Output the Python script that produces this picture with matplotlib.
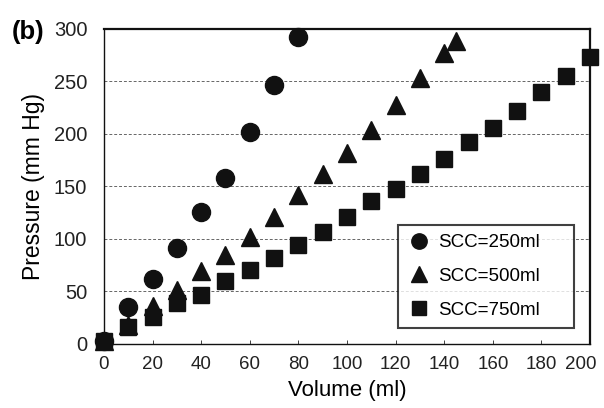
import matplotlib
matplotlib.use("Agg")
import matplotlib.pyplot as plt
import matplotlib.transforms as mtransforms

plt.rcParams['font.family'] = ['Liberation Sans', 'DejaVu Sans']

vol_250 = [0, 10, 20, 30, 40, 50, 60, 70, 80]
p_250 = [3, 35, 62, 91, 126, 158, 202, 247, 292]

vol_500 = [0, 10, 20, 30, 40, 50, 60, 70, 80, 90, 100, 110, 120, 130, 140, 145]
p_500 = [3, 18, 36, 51, 69, 85, 102, 121, 142, 162, 182, 204, 228, 253, 277, 289]

vol_750 = [0, 10, 20, 30, 40, 50, 60, 70, 80, 90, 100, 110, 120, 130, 140, 150, 160, 170, 180, 190, 200]
p_750 = [3, 16, 26, 39, 47, 60, 70, 82, 94, 107, 121, 136, 148, 162, 176, 192, 206, 222, 240, 255, 273]

labels = ['SCC=250ml', 'SCC=500ml', 'SCC=750ml']
xticks = [0, 20, 40, 60, 80, 100, 120, 140, 160, 180, 200]
yticks = [0, 50, 100, 150, 200, 250, 300]

fig = plt.figure(figsize=(6.04, 4.08), dpi=100)
ax = fig.add_axes([0.172, 0.157, 0.805, 0.772])

col = '#111111'
ax.plot(vol_250, p_250, 'o', color=col, ms=13, ls='none', clip_on=False, label=labels[0], zorder=3)
ax.plot(vol_500, p_500, '^', color=col, ms=13, ls='none', clip_on=False, label=labels[1], zorder=3)
ax.plot(vol_750, p_750, 's', color=col, ms=12, ls='none', clip_on=False, label=labels[2], zorder=4)

ax.set_xlim(0, 200)
ax.set_ylim(0, 300)
ax.set_xticks(xticks)
ax.set_yticks(yticks)
ax.tick_params(axis='both', direction='in', length=3, width=0.6, colors='#222222')
ax.tick_params(axis='x', pad=9, labelsize=13.5)
ax.tick_params(axis='y', length=0, pad=12, labelsize=14.5)
ax.yaxis.grid(True, linestyle=(0, (3, 2)), color='#666666', linewidth=0.7)
ax.set_axisbelow(True)
for s in ax.spines.values():
    s.set_color('#111111')
    s.set_linewidth(1.6)
ax.spines['left'].set_linewidth(1.0)
ax.spines['bottom'].set_linewidth(1.0)

# nudge last x tick label left so it stays inside the figure
last = ax.xaxis.get_major_ticks()[-1].label1
last.set_transform(last.get_transform() + mtransforms.ScaledTranslation(-7 / 72, 0, fig.dpi_scale_trans))

ax.set_xlabel('Volume (ml)', fontsize=16, labelpad=5)
ax.set_ylabel('Pressure (mm Hg)', fontsize=16.5, labelpad=6)

leg = ax.legend(loc='lower left', bbox_to_anchor=(0.605, 0.051, 0.362, 0.333), mode='expand',
                fontsize=13.5, frameon=True, fancybox=False, edgecolor='#111111',
                handletextpad=0.43, labelspacing=0.88, borderpad=0.5, markerscale=0.85,
                handlelength=1.2, borderaxespad=0)
leg.get_frame().set_linewidth(1.5)

fig.text(0.02, 0.905, '(b)', fontsize=18.5, fontweight='bold')

fig.savefig('out.png', dpi=100)
